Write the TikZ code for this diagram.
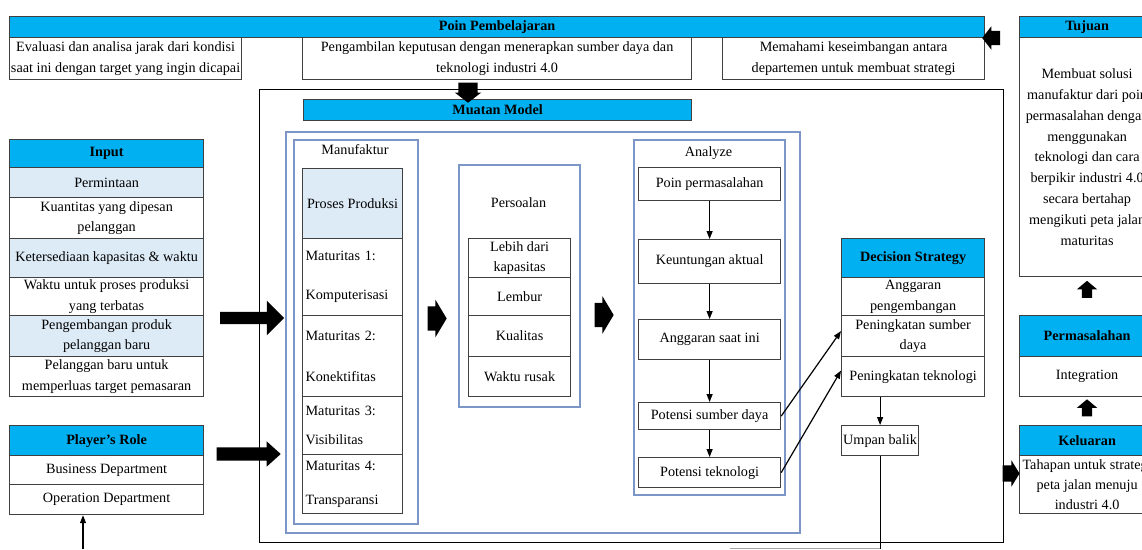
\documentclass[tikz,border=0pt]{standalone}
\usepackage{fontspec}
\setmainfont{Liberation Serif}
\usepackage{tikz}
\usetikzlibrary{shapes.arrows,arrows.meta,calc}
\definecolor{cyanTitre}{RGB}{0,176,240}
\definecolor{bleuCellule}{RGB}{221,235,247}
\definecolor{bleuCadre}{RGB}{125,150,200}
\definecolor{grisBord}{RGB}{64,64,64}

\begin{document}
\begin{tikzpicture}[x=1pt,y=-1pt,font=\fontsize{14.2}{20.8}\selectfont,
  taille/.style 2 args={minimum width=#1pt,minimum height=#2pt},
  cellule/.style={rectangle,draw=grisBord,line width=1.2pt,anchor=north west,inner sep=0pt,
                  align=center,fill=white},
  entete/.style={cellule,fill=cyanTitre,font=\fontsize{14.2}{20.8}\selectfont\bfseries},
  matu/.style={cellule,align=left,text width=94pt},
  cadre/.style={rectangle,draw=bleuCadre,line width=1.5pt,anchor=north west,inner sep=0pt},
  fleche/.style={-{Triangle[length=8pt,width=6pt]},line width=1.2pt},
  bloc/.style 2 args={single arrow,fill=black,inner xsep=0pt,inner ysep=#1pt,
                      single arrow head extend=#2pt},
  blocv/.style 2 args={single arrow,fill=black,inner xsep=#1pt,inner ysep=0pt,
                      single arrow head extend=#2pt}]

  \useasboundingbox (0,0) rectangle (1142,549);

  % poin pembelajaran
  \node[entete,taille={975}{21}] (POIN) at (9,16) {Poin Pembelajaran};
  \node[cellule,taille={232}{42}] (EVAL) at (9,37)
    {Evaluasi dan analisa jarak dari kondisi\\saat ini dengan target yang ingin dicapai};
  \node[cellule,taille={389}{42}] (AMBIL) at (302,37)
    {Pengambilan keputusan dengan menerapkan sumber daya dan\\teknologi industri 4.0};
  \node[cellule,taille={262}{42}] (PAHAM) at (722,37)
    {Memahami keseimbangan antara\\departemen untuk membuat strategi};

  % muatan model
  \node[rectangle,draw=black,line width=1pt,anchor=north west,inner sep=0pt,taille={744}{453}] (MODEL) at (259,89) {};
  \node[entete,taille={388}{21}] (MUATAN) at (303,99) {Muatan Model};
  \node[cadre,taille={514}{401}] (ISI) at (285,131) {};

  \node[cadre,taille={124}{384}] (MANU) at (293,139) {};
  \node (tMANU) at (355,150) {Manufaktur};
  \node[cellule,fill=bleuCellule,taille={100}{70}] (PROD) at (302,168) {Proses Produksi};
  \node[matu,taille={100}{77}] (MAT1) at (302,238) {Maturitas 1:\\[18pt]Komputerisasi};
  \node[matu,taille={100}{81}] (MAT2) at (302,315) {Maturitas 2:\\[20pt]Konektifitas};
  \node[matu,taille={100}{58}] (MAT3) at (302,396) {Maturitas 3:\\[8pt]Visibilitas};
  \node[matu,taille={100}{59}] (MAT4) at (302,454) {Maturitas 4:\\[13pt]Transparansi};

  \node[cadre,taille={121}{242}] (PERS) at (458,164) {};
  \node (tPERS) at (518.5,203) {Persoalan};
  \node[cellule,taille={102}{39}] (LEBIH) at (468,238) {Lebih dari\\kapasitas};
  \node[cellule,taille={102}{38}] (LEMBUR) at (468,277) {Lembur};
  \node[cellule,taille={102}{41}] (KUAL) at (468,315) {Kualitas};
  \node[cellule,taille={102}{40}] (RUSAK) at (468,356) {Waktu rusak};

  \node[cadre,taille={151}{355}] (ANA) at (633,139) {};
  \node (tANA) at (708.5,153) {Analyze};
  \node[cellule,taille={142}{33}] (PPERM) at (638,167) {Poin permasalahan};
  \node[cellule,taille={142}{44}] (UNTUNG) at (638,239) {Keuntungan aktual};
  \node[cellule,taille={142}{40}] (ANGG) at (638,319) {Anggaran saat ini};
  \node[cellule,taille={142}{27}] (POTSD) at (638,402) {Potensi sumber daya};
  \node[cellule,taille={142}{30}] (POTTK) at (638,457) {Potensi teknologi};

  \draw[fleche] (PPERM) -- (UNTUNG);
  \draw[fleche] (UNTUNG) -- (ANGG);
  \draw[fleche] (ANGG) -- (POTSD);
  \draw[fleche] (POTSD) -- (POTTK);

  % decision strategy
  \node[entete,taille={143}{39}] (DEC) at (841,238) {Decision Strategy};
  \node[cellule,taille={143}{38}] (DANG) at (841,277) {Anggaran\\pengembangan};
  \node[cellule,taille={143}{41}] (DSD) at (841,315) {Peningkatan sumber\\daya};
  \node[cellule,taille={143}{40}] (DTK) at (841,356) {Peningkatan teknologi};
  \node[cellule,taille={77}{30}] (UMPAN) at (841,425) {Umpan balik};

  \draw[fleche] (POTSD.east) -- ([yshift=5pt]DSD.west);
  \draw[fleche] (POTTK.east) -- ([yshift=6pt]DTK.west);
  \draw[fleche] (UMPAN.north |- DTK.south) -- (UMPAN.north);
  \coordinate (FBOUT) at (730,548.5);
  \draw[line width=1pt] (UMPAN.south) -- (UMPAN.south |- FBOUT);
  \draw[line width=1pt,black!35] (UMPAN.south |- FBOUT) -- (FBOUT);

  % input et player's role
  \node[entete,taille={194}{28}] (INP) at (9,139) {Input};
  \node[cellule,fill=bleuCellule,taille={194}{30}] (I1) at (9,167) {Permintaan};
  \node[cellule,taille={194}{41}] (I2) at (9,197) {Kuantitas yang dipesan\\pelanggan};
  \node[cellule,fill=bleuCellule,taille={194}{39}] (I3) at (9,238) {Ketersediaan kapasitas \& waktu};
  \node[cellule,taille={194}{38}] (I4) at (9,277) {Waktu untuk proses produksi\\yang terbatas};
  \node[cellule,fill=bleuCellule,taille={194}{41}] (I5) at (9,315) {Pengembangan produk\\pelanggan baru};
  \node[cellule,taille={194}{40}] (I6) at (9,356) {Pelanggan baru untuk\\memperluas target pemasaran};

  \node[entete,taille={194}{30}] (ROLE) at (9,425) {Player's Role};
  \node[cellule,taille={194}{29}] (BIZ) at (9,455) {Business Department};
  \node[cellule,taille={194}{30}] (OPS) at (9,484) {Operation Department};
  \coordinate (FBIN) at (83,549);
  \draw[fleche] (FBIN) -- (FBIN |- OPS.south);

  % tujuan, permasalahan, keluaran
  \node[entete,taille={135}{21}] (TUJ) at (1019,16) {Tujuan};
  \node[cellule,taille={135}{239}] (TUJB) at (1019,37)
    {Membuat solusi\\manufaktur dari poin\\permasalahan dengan\\menggunakan\\teknologi dan cara\\
     berpikir industri 4.0\\secara bertahap\\mengikuti peta jalan\\maturitas};
  \node[entete,taille={135}{41}] (PERM) at (1019,315) {Permasalahan};
  \node[cellule,taille={135}{40}] (INTEG) at (1019,356) {Integration};
  \node[entete,taille={135}{30}] (KEL) at (1019,425) {Keluaran};
  \node[cellule,taille={135}{58}] (KELB) at (1019,455)
    {Tahapan untuk strategi\\[-0.4pt]peta jalan menuju\\[-0.4pt]industri 4.0};

  % grosses fleches
  \node[bloc={6}{11},minimum height=64pt] (F1) at (249,318) {};
  \node[bloc={6.5}{6},minimum height=64pt,single arrow tip angle=84] (F2) at (245,454) {};
  \node[bloc={12}{6.5},minimum height=19pt,single arrow tip angle=118] (F3) at (433.5,318.5) {};
  \node[bloc={12}{6.5},minimum height=19pt,single arrow tip angle=118] (F4) at (600.5,315) {};
  \node[blocv={9.5}{3.5},minimum height=20pt,single arrow tip angle=105,
        shape border rotate=270] (F5) at (468,89) {};
  \node[bloc={7}{4.5},minimum height=18pt,single arrow tip angle=104,
        shape border rotate=180] (F6) at (994,38) {};
  \node[blocv={5}{5},minimum height=17pt,single arrow tip angle=100,
        shape border rotate=90] (F7) at (1087,291.5) {};
  \node[blocv={5}{5},minimum height=17pt,single arrow tip angle=100,
        shape border rotate=90] (F8) at (1087,410) {};
  \node[bloc={8}{5},minimum height=17pt,single arrow tip angle=117] (F9) at (1008.5,473.5) {};
\end{tikzpicture}
\end{document}
